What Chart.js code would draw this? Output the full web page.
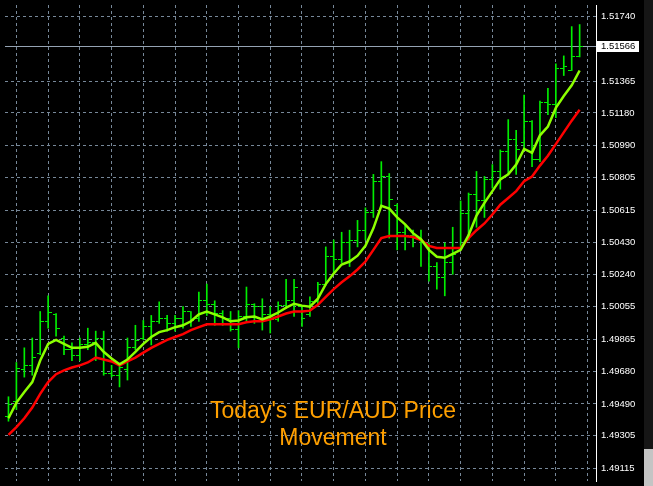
<!DOCTYPE html>
<html><head><meta charset="utf-8">
<script src="https://cdn.jsdelivr.net/npm/chart.js@4.4.1/dist/chart.umd.min.js"></script>
<style>html,body{margin:0;padding:0;background:#000;overflow:hidden}canvas{display:block}</style>
</head><body>
<canvas id="c" width="653" height="486"></canvas>
<script>
// ---- data (EUR/AUD bars, oldest first) ----
const openP = [1.49418,1.49503,1.49691,1.49714,1.49782,1.49970,1.50010,1.49873,1.49805,1.49771,
1.49833,1.49845,1.49873,1.49668,1.49657,1.49691,1.49816,1.49873,1.49941,1.49970,
1.49987,1.49958,1.49987,1.50027,1.49987,1.50089,1.50066,1.50015,1.49987,1.49924,
1.49998,1.50066,1.50055,1.50010,1.49981,1.50061,1.50089,1.50055,1.50010,1.50083,
1.50186,1.50345,1.50328,1.50430,1.50442,1.50499,1.50601,1.50783,1.50811,1.50641,
1.50487,1.50470,1.50453,1.50413,1.50288,1.50226,1.50311,1.50396,1.50595,1.50709,
1.50669,1.50794,1.50840,1.50954,1.51027,1.51010,1.51130,1.50908,1.51238,1.51226,
1.51437,1.51426,1.51505];
const highP = [1.49532,1.49731,1.49816,1.49873,1.50027,1.50118,1.50015,1.49884,1.49845,1.49873,
1.49930,1.49913,1.49913,1.49714,1.49720,1.49873,1.49947,1.49975,1.50004,1.50083,
1.50004,1.50004,1.50055,1.50027,1.50140,1.50186,1.50089,1.50032,1.50027,1.50032,
1.50169,1.50072,1.50101,1.50055,1.50083,1.50214,1.50214,1.50061,1.50112,1.50197,
1.50402,1.50442,1.50487,1.50499,1.50556,1.50629,1.50823,1.50897,1.50828,1.50652,
1.50527,1.50499,1.50499,1.50425,1.50311,1.50425,1.50516,1.50669,1.50715,1.50840,
1.50811,1.50880,1.50965,1.51141,1.51079,1.51283,1.51135,1.51249,1.51323,1.51465,
1.51511,1.51681,1.51693];
const lowP = [1.49390,1.49458,1.49646,1.49657,1.49776,1.49930,1.49884,1.49776,1.49742,1.49742,
1.49805,1.49742,1.49657,1.49646,1.49589,1.49629,1.49805,1.49862,1.49833,1.49958,
1.49913,1.49913,1.49930,1.49941,1.49970,1.50004,1.49947,1.49947,1.49913,1.49816,
1.49970,1.49958,1.49919,1.49902,1.49970,1.50044,1.49998,1.49941,1.49998,1.50061,
1.50180,1.50254,1.50311,1.50288,1.50402,1.50442,1.50573,1.50641,1.50453,1.50385,
1.50385,1.50402,1.50288,1.50203,1.50157,1.50118,1.50243,1.50385,1.50442,1.50516,
1.50573,1.50743,1.50737,1.50823,1.50823,1.50971,1.50868,1.50897,1.51170,1.51152,
1.51397,1.51426,1.51505];
const closeP = [1.49486,1.49697,1.49714,1.49759,1.49970,1.50021,1.49930,1.49805,1.49771,1.49833,
1.49845,1.49873,1.49668,1.49657,1.49702,1.49816,1.49856,1.49941,1.49970,1.49987,
1.49958,1.49987,1.50027,1.49975,1.50089,1.50066,1.50015,1.49987,1.49924,1.49998,
1.50066,1.50055,1.50010,1.49981,1.50061,1.50089,1.50169,1.49987,1.50083,1.50186,
1.50345,1.50328,1.50430,1.50442,1.50499,1.50601,1.50783,1.50811,1.50680,1.50487,
1.50470,1.50453,1.50430,1.50288,1.50226,1.50311,1.50356,1.50595,1.50709,1.50669,
1.50794,1.50840,1.50954,1.51027,1.50965,1.51130,1.50908,1.51238,1.51226,1.51437,
1.51448,1.51505,1.51566];
const fastMA = [1.49407,1.49498,1.49560,1.49617,1.49742,1.49839,1.49862,1.49839,1.49816,1.49816,
1.49822,1.49845,1.49793,1.49754,1.49720,1.49748,1.49793,1.49839,1.49879,1.49907,
1.49919,1.49936,1.49947,1.49970,1.50010,1.50027,1.50010,1.49993,1.49970,1.49975,
1.49993,1.49998,1.49981,1.49998,1.50021,1.50049,1.50072,1.50061,1.50055,1.50101,
1.50186,1.50248,1.50300,1.50317,1.50351,1.50408,1.50510,1.50641,1.50624,1.50573,
1.50533,1.50482,1.50447,1.50385,1.50345,1.50339,1.50362,1.50385,1.50470,1.50584,
1.50658,1.50726,1.50794,1.50823,1.50880,1.50971,1.50948,1.51050,1.51101,1.51209,
1.51278,1.51340,1.51426];
const slowMA = [1.49310,1.49356,1.49407,1.49469,1.49549,1.49617,1.49663,1.49685,1.49702,1.49714,
1.49731,1.49759,1.49748,1.49737,1.49714,1.49737,1.49759,1.49788,1.49816,1.49839,
1.49862,1.49879,1.49896,1.49919,1.49936,1.49953,1.49953,1.49953,1.49953,1.49953,
1.49964,1.49970,1.49970,1.49981,1.49998,1.50015,1.50027,1.50027,1.50032,1.50066,
1.50112,1.50157,1.50197,1.50231,1.50271,1.50317,1.50385,1.50453,1.50465,1.50465,
1.50465,1.50459,1.50442,1.50408,1.50396,1.50396,1.50396,1.50396,1.50453,1.50499,
1.50538,1.50590,1.50647,1.50686,1.50726,1.50783,1.50811,1.50874,1.50931,1.50999,
1.51067,1.51135,1.51198];
const yTickValues = [1.51740,1.51365,1.51180,1.50990,1.50805,1.50615,1.50430,1.50240,
1.50055,1.49865,1.49680,1.49490,1.49305,1.49115];
const currentPrice = 1.51566;
const titleLines = ["Today's EUR/AUD Price", "Movement"];
const barNumbers = openP.map((_, i) => i);
const gridBarNumbers = [3,7,11,15,19,23,27,31,35,39,43,47,51,55,59,63,67,71];

// ---- styles ----
const BAR_COLOR = '#00ee00';
const FAST_COLOR = '#8cff00';
const SLOW_COLOR = '#ff0000';
const GRID_COLOR = '#778899';
const LABEL_FONT = '"Liberation Sans", Arial, sans-serif';

function tickImage(side) {
  const c = document.createElement('canvas');
  c.width = 7; c.height = 1;
  const g = c.getContext('2d');
  g.fillStyle = BAR_COLOR;
  if (side === 'open') g.fillRect(0, 0, 3, 1); else g.fillRect(4, 0, 3, 1);
  return c;
}

const overlay = {
  id: 'overlay',
  beforeDraw(chart) {
    const ctx = chart.ctx;
    ctx.save();
    ctx.fillStyle = '#000';
    ctx.fillRect(0, 0, chart.width, chart.height);
    ctx.fillStyle = '#161616';
    ctx.fillRect(644, 0, 9, 449);
    ctx.fillStyle = '#c4c4c4';
    ctx.fillRect(644, 449, 9, 37);
    ctx.restore();
  },
  beforeDatasetsDraw(chart) {
    const ctx = chart.ctx, a = chart.chartArea;
    const y = Math.round(chart.scales.y.getPixelForValue(currentPrice)) + 0.5;
    ctx.save();
    ctx.strokeStyle = '#95a3b3';
    ctx.lineWidth = 1;
    ctx.beginPath(); ctx.moveTo(a.left, y); ctx.lineTo(a.right, y); ctx.stroke();
    ctx.restore();
  },
  afterDraw(chart) {
    const ctx = chart.ctx, a = chart.chartArea;
    const y = Math.round(chart.scales.y.getPixelForValue(currentPrice));
    ctx.save();
    ctx.fillStyle = '#ffffff';
    ctx.fillRect(a.right + 1, y - 5, 42, 11);
    ctx.fillStyle = '#000000';
    ctx.font = '9.5px ' + LABEL_FONT;
    ctx.textBaseline = 'middle';
    ctx.textAlign = 'left';
    ctx.fillText(currentPrice.toFixed(5), a.right + 5, y + 0.5);
    ctx.fillStyle = '#ffa000';
    ctx.font = '23px ' + LABEL_FONT;
    ctx.textAlign = 'center';
    ctx.textBaseline = 'alphabetic';
    ctx.fillText(titleLines[0], 333, 418);
    ctx.fillText(titleLines[1], 333, 445);
    ctx.restore();
  }
};

new Chart(document.getElementById('c'), {
  type: 'line',
  data: {
    datasets: [
      { type: 'line', data: barNumbers.map(i => ({x: i, y: fastMA[i]})), borderColor: FAST_COLOR,
        borderWidth: 2.5, pointRadius: 0, tension: 0, order: 0 },
      { type: 'line', data: barNumbers.map(i => ({x: i, y: slowMA[i]})), borderColor: SLOW_COLOR,
        borderWidth: 2.5, pointRadius: 0, tension: 0, order: 1 },
      { type: 'line', showLine: false, data: barNumbers.map(i => ({x: i, y: openP[i]})),
        pointStyle: tickImage('open'), pointRadius: 3, order: 2 },
      { type: 'line', showLine: false, data: barNumbers.map(i => ({x: i, y: closeP[i]})),
        pointStyle: tickImage('close'), pointRadius: 3, order: 3 },
      { type: 'bar', data: barNumbers.map(i => ({x: i, y: [lowP[i], highP[i]]})),
        backgroundColor: BAR_COLOR, borderWidth: 0, barThickness: 1, order: 4 }
    ]
  },
  options: {
    responsive: false, animation: false, devicePixelRatio: 1,
    layout: { padding: 0 },
    plugins: { legend: { display: false }, tooltip: { enabled: false } },
    scales: {
      x: {
        type: 'linear', min: -0.4375, max: 74.0625, offset: false,
        afterBuildTicks: s => { s.ticks = gridBarNumbers.map(v => ({ value: v })); },
        afterFit: s => { s.height = 0; s.paddingLeft = 0; s.paddingRight = 0; },
        ticks: { display: false },
        grid: { color: GRID_COLOR, lineWidth: 1, drawTicks: false },
        border: { display: false, dash: [3, 3] }
      },
      y: {
        type: 'linear', position: 'right', min: 1.490428, max: 1.518065,
        afterBuildTicks: s => { s.ticks = yTickValues.map(v => ({ value: v })); },
        afterFit: s => { s.width = 57; s.paddingTop = 0; s.paddingBottom = 0; },
        ticks: { color: '#ffffff', font: { family: LABEL_FONT, size: 9.5 },
                 padding: 5, autoSkip: false, callback: v => Number(v).toFixed(5) },
        grid: { color: GRID_COLOR, lineWidth: 1, drawTicks: false },
        border: { display: true, color: '#ffffff', width: 1, dash: [3, 3] }
      }
    }
  },
  plugins: [overlay]
});
</script>
</body></html>
